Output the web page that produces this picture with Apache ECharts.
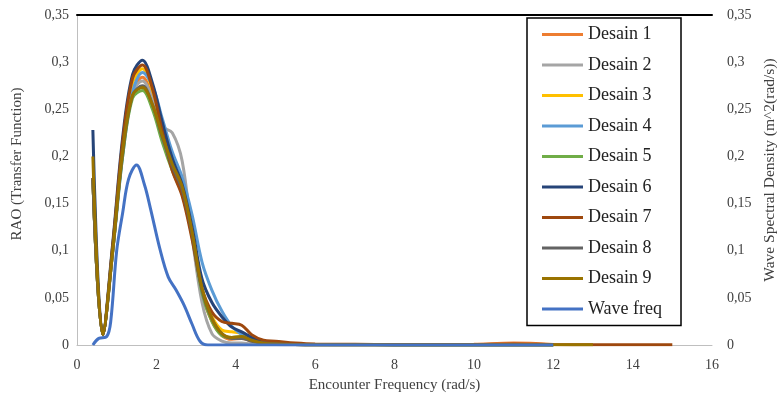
<!DOCTYPE html>
<html>
<head>
<meta charset="utf-8">
<script src="https://cdn.jsdelivr.net/npm/echarts@6/dist/echarts.min.js"></script>
<style>
html,body{margin:0;padding:0;background:#fff;}
#chart{width:777px;height:398px;}
</style>
</head>
<body>
<div id="chart"></div>
<script>
// ---- data ----
var freq = [0.4, 0.65, 0.9, 1.15, 1.4, 1.65, 1.9, 2.15, 2.4, 2.65, 2.9, 3.15, 3.4, 3.65, 3.9, 4.15, 4.4, 4.7, 5.0, 5.5, 6, 7, 8, 9, 10, 11, 12, 13, 14, 15];
var desain1 = [0.177, 0.011, 0.100, 0.205, 0.270, 0.284, 0.262, 0.226, 0.192, 0.168, 0.118, 0.055, 0.025, 0.010, 0.006, 0.007, 0.004, 0.002, 0.001, 0.0005, 0.0003, 0.0002, 0.0002, 0.0003, 0.0008, 0.002, 0.0005, null, null, null];
var desain2 = [0.177, 0.011, 0.100, 0.205, 0.268, 0.280, 0.262, 0.232, 0.225, 0.195, 0.115, 0.045, 0.012, 0.004, 0.002, 0.002, 0.001, 0.001, 0.0005, 0.0003, 0.0002, 0.0001, 0.0001, 0.0001, 0.0001, 0.0001, 0.0001, null, null, null];
var desain3 = [0.177, 0.011, 0.105, 0.212, 0.278, 0.293, 0.270, 0.232, 0.195, 0.168, 0.120, 0.058, 0.030, 0.016, 0.014, 0.012, 0.006, 0.003, 0.001, 0.0005, 0.0003, 0.0002, 0.0001, 0.0001, 0.0001, 0.0001, 0.0001, null, null, null];
var desain4 = [0.177, 0.011, 0.098, 0.200, 0.268, 0.289, 0.275, 0.240, 0.205, 0.178, 0.138, 0.088, 0.058, 0.036, 0.020, 0.011, 0.005, 0.002, 0.001, 0.0005, 0.0003, 0.0002, 0.0001, 0.0001, 0.0001, 0.0001, 0.0001, null, null, null];
var desain5 = [0.175, 0.011, 0.100, 0.200, 0.262, 0.270, 0.250, 0.215, 0.185, 0.160, 0.115, 0.055, 0.025, 0.010, 0.008, 0.009, 0.005, 0.002, 0.001, 0.0005, 0.0003, 0.0002, 0.0001, 0.0001, 0.0001, 0.0001, 0.0001, null, null, null];
var desain6 = [0.228, 0.011, 0.108, 0.220, 0.287, 0.302, 0.278, 0.236, 0.198, 0.170, 0.125, 0.070, 0.045, 0.030, 0.019, 0.014, 0.008, 0.003, 0.001, 0.0005, 0.0003, 0.0002, 0.0001, 0.0001, 0.0001, 0.0001, 0.0001, null, null, null];
var desain7 = [0.177, 0.011, 0.105, 0.215, 0.283, 0.297, 0.272, 0.226, 0.185, 0.158, 0.112, 0.060, 0.035, 0.025, 0.023, 0.021, 0.011, 0.005, 0.004, 0.002, 0.001, 0.0008, 0.0005, 0.0005, 0.0005, 0.001, 0.0005, 0.0003, 0.0003, 0.0002];
var desain8 = [0.177, 0.011, 0.100, 0.203, 0.265, 0.275, 0.255, 0.220, 0.190, 0.165, 0.118, 0.058, 0.028, 0.012, 0.007, 0.007, 0.004, 0.002, 0.001, 0.0005, 0.0003, 0.0002, 0.0001, 0.0001, 0.0001, 0.0001, 0.0001, null, null, null];
var desain9 = [0.200, 0.011, 0.100, 0.205, 0.265, 0.273, 0.255, 0.222, 0.192, 0.168, 0.120, 0.060, 0.028, 0.012, 0.008, 0.009, 0.005, 0.002, 0.001, 0.0005, 0.0003, 0.0002, 0.0002, 0.0002, 0.0002, 0.0002, 0.0002, 0.0002, null, null];
var waveFreqX = [0.4, 0.55, 0.75, 0.85, 1.0, 1.15, 1.3, 1.5, 1.7, 1.85, 2.1, 2.3, 2.5, 2.7, 2.9, 3.1, 3.3, 3.6, 4, 5, 6, 7, 8, 9, 10, 11, 12];
var waveFreqY = [0, 0.007, 0.009, 0.025, 0.100, 0.140, 0.176, 0.191, 0.170, 0.145, 0.100, 0.072, 0.058, 0.042, 0.022, 0.004, 0, 0, 0, 0, 0, 0, 0, 0, 0, 0, 0];
var seriesNames = ['Desain 1','Desain 2','Desain 3','Desain 4','Desain 5','Desain 6','Desain 7','Desain 8','Desain 9','Wave freq'];
var xTicks = [0, 2, 4, 6, 8, 10, 12, 14, 16];
var yTicks = [0, 0.05, 0.1, 0.15, 0.2, 0.25, 0.3, 0.35];

// ---- build ----
var colors = ['#ED7D31','#A5A5A5','#FFC000','#5B9BD5','#70AD47','#264478','#9E480E','#636363','#997300','#4472C4'];
var raoSets = [desain1, desain2, desain3, desain4, desain5, desain6, desain7, desain8, desain9];
function pair(xs, ys){ var out=[]; for(var i=0;i<xs.length;i++){ if(ys[i]!==null) out.push([xs[i], ys[i]]); } return out; }
var font = 'Liberation Serif';
var txt = '#404040';
function fmt(v){ return String(parseFloat(v.toFixed(2))).replace('.', ','); }

var series = [];
raoSets.forEach(function(arr, i){
  series.push({
    name: seriesNames[i], type: 'line', xAxisIndex: 0, yAxisIndex: 0,
    data: pair(freq, arr), smooth: 0.35, symbol: 'none',
    lineStyle: {width: 3, color: colors[i]}, itemStyle: {color: colors[i]}
  });
});
series.push({
  name: seriesNames[9], type: 'line', xAxisIndex: 0, yAxisIndex: 1,
  data: pair(waveFreqX, waveFreqY), smooth: 0.35, symbol: 'none',
  lineStyle: {width: 3, color: colors[9]}, itemStyle: {color: colors[9]}
});

var chart = echarts.init(document.getElementById('chart'), null, {renderer: 'canvas'});
chart.setOption({
  animation: false,
  backgroundColor: '#fff',
  color: colors,
  grid: {left: 77, right: 65, top: 15, bottom: 53, containLabel: false, outerBoundsMode: 'none'},
  legend: {
    orient: 'vertical', left: 527, top: 18,
    data: seriesNames.map(function(n){ return {name: n, icon: 'rect'}; }),
    backgroundColor: '#fff', borderColor: '#000', borderWidth: 1.5,
    padding: [7.5, 19, 7.5, 15],
    itemWidth: 41, itemHeight: 3, itemGap: 12.5,
    textStyle: {fontFamily: font, fontSize: 18, color: '#222', lineHeight: 18}
  },
  xAxis: [{
    type: 'value', min: xTicks[0], max: xTicks[xTicks.length-1], interval: 2,
    name: 'Encounter Frequency (rad/s)', nameLocation: 'middle', nameGap: 33,
    nameTextStyle: {fontFamily: font, fontSize: 15, color: txt},
    axisLine: {show: true, lineStyle: {color: '#BFBFBF', width: 1}},
    axisTick: {show: false}, splitLine: {show: false},
    axisLabel: {fontFamily: font, fontSize: 14, color: txt, margin: 13}
  }, {
    type: 'value', position: 'top', min: 0, max: 16,
    axisLine: {show: true, onZero: false, lineStyle: {color: '#000', width: 2}},
    axisTick: {show: false}, axisLabel: {show: false}, splitLine: {show: false}
  }],
  yAxis: [{
    type: 'value', min: yTicks[0], max: yTicks[yTicks.length-1], interval: 0.05,
    name: 'RAO (Transfer Function)', nameLocation: 'middle', nameGap: 52, nameRotate: 90,
    nameTextStyle: {fontFamily: font, fontSize: 15, color: txt, padding: [0, 0, 0, 32]},
    axisLine: {show: true, lineStyle: {color: '#BFBFBF', width: 1}},
    axisTick: {show: false}, splitLine: {show: false},
    axisLabel: {fontFamily: font, fontSize: 14, color: txt, margin: 8, formatter: fmt}
  }, {
    type: 'value', position: 'right', min: yTicks[0], max: yTicks[yTicks.length-1], interval: 0.05,
    name: 'Wave Spectral Density (m^2(rad/s))', nameLocation: 'middle', nameGap: 46, nameRotate: 90,
    nameTextStyle: {fontFamily: font, fontSize: 15.5, color: txt, padding: [0, 0, 0, 20]},
    axisLine: {show: true, lineStyle: {color: '#BFBFBF', width: 1}},
    axisTick: {show: false}, splitLine: {show: false},
    axisLabel: {fontFamily: font, fontSize: 14, color: txt, margin: 15, formatter: fmt}
  }],
  series: series
});
</script>
</body>
</html>
